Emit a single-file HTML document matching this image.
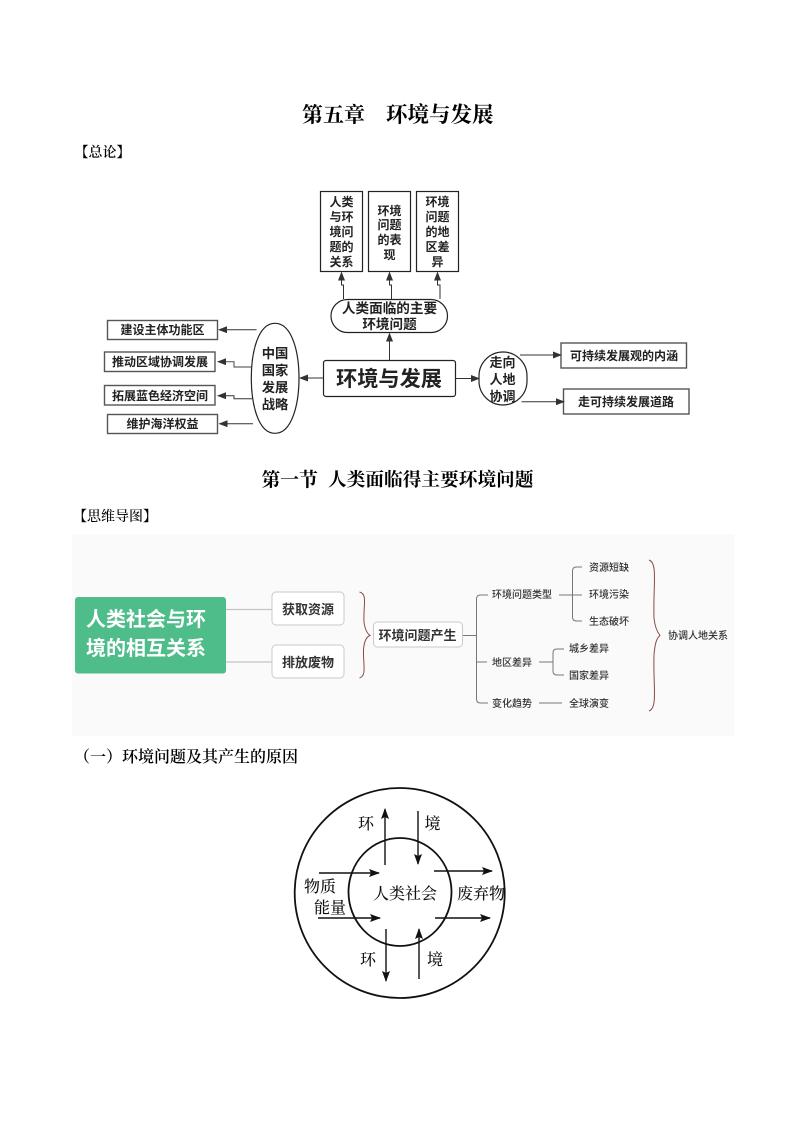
<!DOCTYPE html>
<html lang="zh"><head><meta charset="utf-8"><style>
html,body{margin:0;padding:0;background:#fff}
svg{display:block}
.s{font-family:"Liberation Sans","Noto Sans CJK SC",sans-serif}
.f{font-family:"Liberation Serif","Noto Serif CJK SC",serif}
</style></head><body>
<svg width="794" height="1123" viewBox="0 0 794 1123" xmlns="http://www.w3.org/2000/svg">
<defs>
<marker id="a" markerWidth="9" markerHeight="7" refX="8" refY="3.5" orient="auto" markerUnits="userSpaceOnUse"><path d="M0 0L9 3.5L0 7Z" fill="#333"/></marker>
<marker id="b" markerWidth="11" markerHeight="8" refX="10" refY="4" orient="auto" markerUnits="userSpaceOnUse"><path d="M0 0L11 4L0 8L2 4Z" fill="#111"/></marker>
</defs>
<rect width="794" height="1123" fill="#fff"/>

<!-- headings -->
<g class="f" fill="#000" font-weight="700">
<text x="302" y="122" font-size="21">第五章</text>
<text x="386" y="122" font-size="21.5">环境与发展</text>
<text x="261.5" y="486" font-size="18.8">第一节</text>
<text x="328" y="486" font-size="18.7">人类面临得主要环境问题</text>
</g>
<g class="f" fill="#000" font-size="14" font-weight="600">
<text x="74.5" y="157">【总论】</text>
<text x="73" y="521" font-weight="500">【思维导图】</text>
<text x="74" y="762" font-size="16">（一）环境问题及其产生的原因</text>
</g>

<!-- top diagram -->
<g fill="#fff" stroke="#222" stroke-width="1.2">
<rect x="320.5" y="191.5" width="42" height="80"/>
<rect x="368.5" y="191.5" width="42" height="80"/>
<rect x="416.5" y="191.5" width="42" height="80"/>
<rect x="331" y="299.5" width="116.5" height="33" rx="16.5"/>
<rect x="323.5" y="360.5" width="132" height="36" rx="2.5"/>
<path d="M275 323.3C258 323.3 251.3 352 251.3 378C251.3 404 258 433.3 275 433.3C292 433.3 299 404 299 378C299 352 292 323.3 275 323.3Z"/>
<rect x="479" y="352" width="48" height="53" rx="24" ry="24"/>
</g>
<g fill="#fff" stroke="#555" stroke-width="1.4">
<rect x="107.5" y="320.5" width="110" height="19"/>
<rect x="104.5" y="352" width="110.5" height="19.5"/>
<rect x="104.5" y="385.5" width="110.5" height="19.5"/>
<rect x="107.5" y="414.5" width="110" height="19"/>
<rect x="561" y="343" width="125.5" height="25"/>
<rect x="563.5" y="389" width="125.5" height="25"/>
</g>
<g fill="none" stroke="#333" stroke-width="1">
<path d="M343.5 299V285H341.5V272.5" marker-end="url(#a)"/>
<path d="M391.5 299V285H389.5V272.5" marker-end="url(#a)"/>
<path d="M440 299V285H437.5V272.5" marker-end="url(#a)"/>
<path d="M389.5 360V333.5" marker-end="url(#a)"/>
<path d="M323 378H300" marker-end="url(#a)"/>
<path d="M256.5 329.7H219" marker-end="url(#a)"/>
<path d="M251 367H234V361.7H218" stroke="#666" stroke-width="1.2" marker-end="url(#a)"/>
<path d="M252 398.7H234V395.7H218" marker-end="url(#a)"/>
<path d="M253 423.7H219.5" marker-end="url(#a)"/>
<path d="M455.5 378.5H479" marker-end="url(#a)"/>
<path d="M520 355H561" marker-end="url(#a)"/>
<path d="M521.5 401.7H564" marker-end="url(#a)"/>
</g>
<g class="s" fill="#222" font-weight="700" text-anchor="middle" font-size="12">
<text x="341.5" y="206">人类</text><text x="341.5" y="221">与环</text><text x="341.5" y="236">境问</text><text x="341.5" y="251">题的</text><text x="341.5" y="266">关系</text>
<text x="389.5" y="215">环境</text><text x="389.5" y="229">问题</text><text x="389.5" y="244">的表</text><text x="389.5" y="259">现</text>
<text x="437.5" y="206">环境</text><text x="437.5" y="221">问题</text><text x="437.5" y="236">的地</text><text x="437.5" y="251">区差</text><text x="437.5" y="266">异</text>
<text x="389.5" y="313" font-size="13.6">人类面临的主要</text><text x="389.5" y="329" font-size="13.6">环境问题</text>
<text x="389" y="386" font-size="21.2">环境与发展</text>
<text x="275" y="358" font-size="13.3">中国</text><text x="275" y="375" font-size="13.3">国家</text><text x="275" y="392" font-size="13.3">发展</text><text x="275" y="409" font-size="13.3">战略</text>
<text x="502.5" y="367" font-size="13">走向</text><text x="502.5" y="384" font-size="13">人地</text><text x="502.5" y="401" font-size="13">协调</text>
<text x="162.5" y="334" font-size="12">建设主体功能区</text>
<text x="160" y="366" font-size="12">推动区域协调发展</text>
<text x="160" y="400" font-size="12">拓展蓝色经济空间</text>
<text x="162.5" y="428" font-size="12">维护海洋权益</text>
<text x="624" y="360" font-size="12">可持续发展观的内涵</text>
<text x="626" y="406" font-size="12">走可持续发展道路</text>
</g>

<!-- mind map -->
<rect x="72" y="534" width="662.5" height="202" fill="#fafafa"/>
<g fill="none" stroke="#c4c4c4" stroke-width="1.2">
<path d="M226 609.5H272M226 662H272"/>
</g>
<rect x="75" y="597" width="151" height="76.5" rx="3" fill="#4fbd8a"/>
<g fill="#fff" stroke="#c9c9c9" stroke-width="1">
<rect x="272" y="592" width="72" height="33" rx="4"/>
<rect x="272" y="645" width="72" height="33" rx="4"/>
<rect x="373.5" y="622" width="89" height="25" rx="4"/>
</g>
<g fill="none" stroke="#8a4a4a" stroke-width="1">
<path d="M359.5 592C368 594 363 606 364 622C365 630 368 634 370 635.5C366 637 364 642 363.5 650C363 664 367 676 359.5 678"/>
<path d="M649 560C658 563 653 585 654 618C655 628 658 633 660 635.5C657 638 655 642 654 655C653 685 658 708 649 711"/>
</g>
<g fill="none" stroke="#777" stroke-width="1">
<path d="M463 635.5H476.5M488 595H480.5Q476.5 595 476.5 599V699Q476.5 703 480.5 703H488M476.5 662H487"/>
<path d="M559 595H582M582 567H576.5Q572.5 567 572.5 571V617Q572.5 621 576.5 621H582"/>
<path d="M539 662H553M564 649H557Q553 649 553 653V671Q553 675 557 675H564"/>
<path d="M539 703H562"/>
</g>
<g class="s" text-anchor="middle">
<g fill="#fff" font-weight="700" font-size="20">
<text x="146" y="626">人类社会与环</text>
<text x="146" y="655">境的相互关系</text>
</g>
<g fill="#333" font-weight="700" font-size="13">
<text x="308" y="614">获取资源</text>
<text x="308" y="667">排放废物</text>
<text x="417.5" y="640">环境问题产生</text>
</g>
<g fill="#333" font-size="10" font-weight="500">
<text x="522" y="598">环境问题类型</text>
<text x="512" y="666">地区差异</text>
<text x="512" y="707">变化趋势</text>
<text x="609" y="571">资源短缺</text>
<text x="609" y="598">环境污染</text>
<text x="609" y="625">生态破坏</text>
<text x="589" y="652">城乡差异</text>
<text x="589" y="679">国家差异</text>
<text x="589" y="707">全球演变</text>
<text x="698" y="639">协调人地关系</text>
</g>
</g>

<!-- circle diagram -->
<g fill="none" stroke="#111">
<circle cx="399.7" cy="893" r="105" stroke-width="1.8"/>
<ellipse cx="400" cy="892" rx="51.5" ry="54" stroke-width="1.8"/>
<g stroke-width="1.4">
<path d="M385 865V809" marker-end="url(#b)"/>
<path d="M418 811V864" marker-end="url(#b)"/>
<path d="M319 873H379" marker-end="url(#b)"/>
<path d="M318 918H380" marker-end="url(#b)"/>
<path d="M434 871H492" marker-end="url(#b)"/>
<path d="M435 918H490" marker-end="url(#b)"/>
<path d="M386 929V981" marker-end="url(#b)"/>
<path d="M419 979V929" marker-end="url(#b)"/>
</g>
</g>
<g class="f" fill="#111" font-size="16" font-weight="500" text-anchor="middle">
<text x="366" y="829">环</text>
<text x="432.5" y="829">境</text>
<text x="368" y="965">环</text>
<text x="435" y="965">境</text>
<text x="320" y="892">物质</text>
<text x="330" y="913">能量</text>
<text x="405" y="899">人类社会</text>
<text x="481" y="899">废弃物</text>
</g>
</svg>
</body></html>
